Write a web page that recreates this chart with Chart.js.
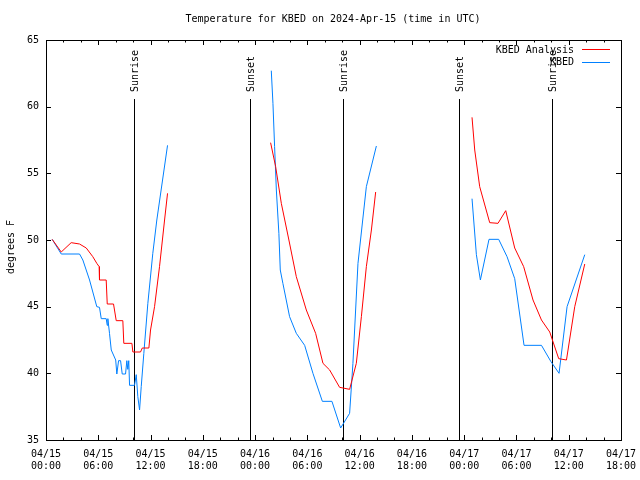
<!DOCTYPE html>
<html>
<head>
<meta charset="utf-8">
<script src="https://cdn.jsdelivr.net/npm/chart.js@4/dist/chart.umd.min.js"></script>
<style>
  html, body { margin: 0; padding: 0; background: #fff; }
  #wrap { width: 640px; height: 480px; }
</style>
</head>
<body>
<div id="wrap"><canvas id="graf" width="640" height="480"></canvas></div>
<script>
// hours since 04/15 00:00 UTC, null temp = gap between days
const analysisHours = [0.71, 1.75, 2.89, 3.85, 4.62, 5.37, 5.83, 6.1, 6.14, 6.91, 7.03, 7.75, 8.06, 8.82, 8.93, 9.86, 9.97, 10.85, 11.05, 11.81, 12.0, 12.46, 13.03, 13.61, 13.95,
  20,
  25.78, 26.36, 27.01, 27.88, 28.73, 29.88, 30.95, 31.79, 32.56, 33.7, 34.85, 35.62, 36.2, 36.77, 37.35, 37.84,
  43,
  48.9, 49.21, 49.78, 50.93, 51.88, 52.77, 53.8, 54.83, 55.9, 56.87, 57.82, 58.85, 59.74, 60.69, 61.84];
const analysisTemps = [50.05, 49.1, 49.8, 49.7, 49.4, 48.75, 48.25, 48.0, 47.0, 47.0, 45.2, 45.2, 43.95, 43.95, 42.25, 42.25, 41.6, 41.6, 41.9, 41.9, 43.25, 45.0, 48.0, 51.5, 53.5,
  null,
  57.3, 55.5, 52.75, 50.0, 47.25, 44.75, 43.0, 40.75, 40.25, 38.95, 38.8, 40.75, 44.25, 48.0, 50.75, 53.6,
  null,
  59.2, 56.75, 54.0, 51.3, 51.25, 52.2, 49.4, 48.0, 45.5, 44.0, 43.1, 41.1, 41.0, 45.0, 48.2];

const obsHours = [0.71, 1.75, 3.85, 4.23, 5.0, 5.83, 6.14, 6.34, 6.91, 7.03, 7.1, 7.29, 7.49, 8.0, 8.13, 8.33, 8.56, 8.75, 9.13, 9.28, 9.39, 9.5, 9.59, 10.16, 10.36, 10.54, 10.74, 10.93, 11.23, 11.69, 12.26, 12.72, 13.95,
  20,
  25.86, 26.05, 26.24, 26.44, 26.73, 26.89, 27.19, 27.96, 28.73, 29.69, 30.64, 31.72, 32.82, 33.82, 34.85, 35.23, 35.81, 36.77, 37.92,
  43,
  48.9, 49.4, 49.86, 50.85, 51.96, 52.92, 53.8, 54.87, 56.87, 57.94, 58.89, 59.81, 61.84];
const obsTemps = [50.05, 48.95, 48.95, 48.5, 47.0, 45.0, 44.95, 44.1, 44.1, 43.6, 44.1, 43.0, 41.75, 41.0, 39.95, 40.95, 40.95, 39.95, 39.95, 40.95, 40.3, 40.95, 39.1, 39.1, 39.9, 38.25, 37.25, 39.0, 41.5, 45.25, 49.0, 51.5, 57.1,
  null,
  62.7, 60.25, 57.0, 53.75, 50.5, 47.75, 46.75, 44.25, 43.0, 42.1, 40.0, 37.9, 37.9, 35.9, 37.0, 40.75, 48.25, 54.0, 57.05,
  null,
  53.1, 48.9, 47.0, 50.05, 50.05, 48.75, 47.1, 42.1, 42.1, 40.9, 40.0, 45.0, 48.9];

const sunHours = [10.07, 23.43, 34.05, 47.43, 58.03];
const sunLabels = ['Sunrise', 'Sunset', 'Sunrise', 'Sunset', 'Sunrise'];

const seriesNames = ['KBED Analysis', 'KBED'];
const seriesColors = ['#ff0000', '#0080ff'];
const days = ['04/15', '04/16', '04/17', '04/18'];

const FONT = '10px "DejaVu Sans Mono", monospace';

function pares(hs, ts) {
  return hs.map((h, i) => ({ x: h, y: ts[i] }));
}

// caixa, marcas, linhas do sol, legenda e titulos
const extras = {
  id: 'extras',
  beforeDatasetsDraw(chart) {
    const ctx = chart.ctx;
    const xs = chart.scales.x;
    const a = chart.chartArea;
    ctx.save();
    ctx.strokeStyle = '#000';
    ctx.lineWidth = 1;
    ctx.fillStyle = '#000';
    ctx.font = FONT;
    sunHours.forEach((h, i) => {
      const x = Math.round(xs.getPixelForValue(h)) + 0.5;
      ctx.beginPath();
      ctx.moveTo(x, a.bottom);
      ctx.lineTo(x, 99);
      ctx.stroke();
      ctx.save();
      ctx.translate(x + 1, 92);
      ctx.rotate(-Math.PI / 2);
      ctx.textAlign = 'left';
      ctx.textBaseline = 'middle';
      ctx.fillText(sunLabels[i], 0, 0);
      ctx.restore();
    });
    ctx.restore();
  },
  afterDraw(chart) {
    const ctx = chart.ctx;
    const xs = chart.scales.x;
    const ys = chart.scales.y;
    const a = chart.chartArea;
    ctx.save();
    ctx.strokeStyle = '#000';
    ctx.fillStyle = '#000';
    ctx.lineWidth = 1;
    ctx.strokeRect(a.left + 0.5, a.top + 0.5, a.right - a.left, a.bottom - a.top);

    ctx.beginPath();
    for (let h = 0; h <= 66; h += 2) {
      const x = Math.round(xs.getPixelForValue(h)) + 0.5;
      const len = h % 6 === 0 ? 5 : 2.5;
      ctx.moveTo(x, a.bottom);
      ctx.lineTo(x, a.bottom - len);
      ctx.moveTo(x, a.top);
      ctx.lineTo(x, a.top + len);
    }
    for (let v = 35; v <= 65; v += 5) {
      const y = Math.round(ys.getPixelForValue(v)) + 0.5;
      ctx.moveTo(a.left, y);
      ctx.lineTo(a.left + 5, y);
      ctx.moveTo(a.right, y);
      ctx.lineTo(a.right - 5, y);
    }
    ctx.stroke();

    ctx.font = FONT;
    // titulo
    ctx.textAlign = 'center';
    ctx.textBaseline = 'middle';
    ctx.fillText('Temperature for KBED on 2024-Apr-15 (time in UTC)', 333, 19);

    // eixo y
    ctx.save();
    ctx.translate(11, 247);
    ctx.rotate(-Math.PI / 2);
    ctx.fillText('degrees F', 0, 0);
    ctx.restore();

    // legenda
    const rows = [50, 62.5];
    seriesNames.forEach((nome, i) => {
      ctx.textAlign = 'right';
      ctx.fillStyle = '#000';
      ctx.fillText(nome, 574, rows[i]);
      ctx.strokeStyle = seriesColors[i];
      ctx.beginPath();
      ctx.moveTo(582, Math.round(rows[i]) - 0.5);
      ctx.lineTo(610, Math.round(rows[i]) - 0.5);
      ctx.stroke();
    });
    ctx.restore();
  }
};

Chart.defaults.font.family = '"DejaVu Sans Mono", monospace';
Chart.defaults.font.size = 10;
Chart.defaults.color = '#000';

new Chart(document.getElementById('graf'), {
  type: 'line',
  data: {
    datasets: [
      {
        label: seriesNames[0],
        data: pares(analysisHours, analysisTemps),
        borderColor: seriesColors[0],
        borderWidth: 1,
        pointRadius: 0,
        tension: 0,
        spanGaps: false
      },
      {
        label: seriesNames[1],
        data: pares(obsHours, obsTemps),
        borderColor: seriesColors[1],
        borderWidth: 1,
        pointRadius: 0,
        tension: 0,
        spanGaps: false
      }
    ]
  },
  options: {
    responsive: false,
    animation: false,
    devicePixelRatio: 1,
    layout: { padding: { left: 0, right: 19, top: 40, bottom: 0 } },
    plugins: {
      legend: { display: false },
      title: { display: false },
      tooltip: { enabled: false }
    },
    scales: {
      x: {
        type: 'linear',
        min: 0,
        max: 66,
        afterFit: s => {
          s.height = 40;
          s.paddingLeft = 0;
          s.paddingRight = 0;
        },
        grid: { display: false, drawTicks: false },
        border: { display: false },
        ticks: {
          stepSize: 6,
          autoSkip: false,
          maxRotation: 0,
          padding: 8,
          font: { size: 10, lineHeight: 1.2 },
          callback: function(v) {
            const d = days[Math.floor(v / 24)];
            const hh = String(v % 24).padStart(2, '0');
            return [d, hh + ':00'];
          }
        }
      },
      y: {
        min: 35,
        max: 65,
        afterFit: s => {
          s.width = 46;
          s.paddingTop = 0;
          s.paddingBottom = 0;
        },
        grid: { display: false, drawTicks: false },
        border: { display: false },
        ticks: { stepSize: 5, padding: 7 }
      }
    }
  },
  plugins: [extras]
});
</script>
</body>
</html>
